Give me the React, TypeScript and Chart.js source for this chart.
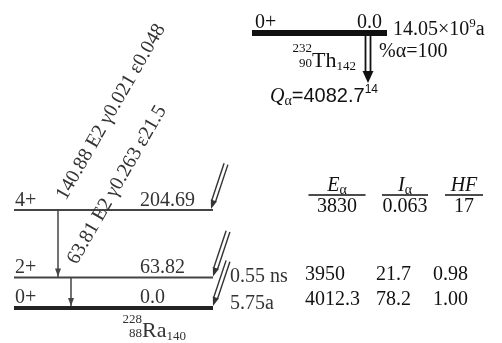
import React, { useEffect, useRef } from 'react';
import { Chart, registerables } from 'chart.js';

Chart.register(...registerables);

// ---- data ----
const levelSpins = ['0+', '2+', '4+'];
const levelEnergies = [0.0, 63.82, 204.69];
const levelEnergyLabels = ['0.0', '63.82', '204.69'];
const levelHalfLives = ['5.75a', '0.55 ns', ''];
const alphaEnergies = ['4012.3', '3950', '3830'];
const alphaIntensities = ['78.2', '21.7', '0.063'];
const hindranceFactors = ['1.00', '0.98', '17'];
const gammaFrom = [63.82, 204.69];
const gammaTo = [0.0, 63.82];
const gammaLabels = ['63.81 E2 γ0.263 ε21.5', '140.88 E2 γ0.021 ε0.048'];
const parentSpin = '0+';
const parentEnergyLabel = '0.0';
const parentHalfLifeMantissa = '14.05×10';
const parentHalfLifeExp = '9';
const parentHalfLifeUnit = 'a';
const parentBranching = '%α=100';
const qAlphaValue = '4082.7';
const qAlphaUnc = '14';

// ---- layout ----
const W = 502;
const H = 343;
const Y_MIN = -73;
const Y_MAX = 643;
const PARENT_Y = 574; // broken-axis display position of the parent level
const LEVEL_X0 = 14;
const LEVEL_X1 = 213;
const PARENT_X0 = 252;
const PARENT_X1 = 387;
const PARENT_ARROW_X = 368;
const GAMMA_X = [71, 58];
const GAMMA_LABEL_POS = [
  [117, 185],
  [111, 112],
];
const HALF_LIFE_DY = [1, 5, 0];
const TABLE_ROW_Y = [305, 280, 212];
const TABLE_COL_X = [305, 376, 433];
const TABLE_HEAD_X = [337, 405, 464];
const TABLE_HEAD_W = [57, 46, 38];
const TABLE_LINE_Y = 195;

const SERIF = '"Liberation Serif", "Times New Roman", serif';
const SANS = '"Liberation Sans", Arial, sans-serif';

type Run = { t: string; font: string; dy?: number };

function drawRuns(ctx: CanvasRenderingContext2D, x: number, y: number, runs: Run[], align: 'left' | 'center' | 'right' = 'left') {
  let total = 0;
  for (const r of runs) {
    ctx.font = r.font;
    total += ctx.measureText(r.t).width;
  }
  let cx = align === 'left' ? x : align === 'center' ? x - total / 2 : x - total;
  ctx.textAlign = 'left';
  ctx.textBaseline = 'alphabetic';
  for (const r of runs) {
    ctx.font = r.font;
    ctx.fillText(r.t, cx, y + (r.dy || 0));
    cx += ctx.measureText(r.t).width;
  }
  return cx;
}

function drawDoubleArrow(
  ctx: CanvasRenderingContext2D,
  tx: number,
  ty: number,
  hx: number,
  hy: number,
  gap: number,
  headLen: number,
  headW: number,
  color: string,
  lw: number
) {
  const dx = hx - tx;
  const dy = hy - ty;
  const L = Math.hypot(dx, dy);
  const ux = dx / L;
  const uy = dy / L;
  const nx = -uy;
  const ny = ux;
  const bx = hx - ux * headLen;
  const by = hy - uy * headLen;
  ctx.strokeStyle = color;
  ctx.lineWidth = lw;
  for (const s of [-1, 1]) {
    ctx.beginPath();
    ctx.moveTo(tx + (nx * gap * s) / 2, ty + (ny * gap * s) / 2);
    ctx.lineTo(bx + (nx * gap * s) / 2 + ux, by + (ny * gap * s) / 2 + uy);
    ctx.stroke();
  }
  ctx.fillStyle = color;
  ctx.beginPath();
  ctx.moveTo(hx, hy);
  ctx.lineTo(bx + nx * headW, by + ny * headW);
  ctx.lineTo(bx - nx * headW, by - ny * headW);
  ctx.closePath();
  ctx.fill();
}

function drawHead(ctx: CanvasRenderingContext2D, x: number, y: number, len: number, hw: number, color: string) {
  ctx.fillStyle = color;
  ctx.beginPath();
  ctx.moveTo(x, y);
  ctx.lineTo(x - hw, y - len);
  ctx.lineTo(x + hw, y - len);
  ctx.closePath();
  ctx.fill();
}

const schemePlugin = {
  id: 'decayScheme',
  afterDatasetsDraw(chart: any) {
    const ctx: CanvasRenderingContext2D = chart.ctx;
    const xs = chart.scales.x;
    const ys = chart.scales.y;
    const px = (v: number) => xs.getPixelForValue(v);
    const py = (v: number) => ys.getPixelForValue(v);
    ctx.save();

    const raCol = '#333';
    const blk = '#111';

    // gamma arrow heads
    gammaTo.forEach((e, i) => {
      const yTip = py(e) - (e === 0 ? 2 : 1);
      drawHead(ctx, px(GAMMA_X[i]), yTip, 8, 3, '#444');
    });

    // incoming alpha arrows
    levelEnergies.forEach((e, i) => {
      const hx = px(LEVEL_X1) - (i === 2 ? 2 : 0);
      const hy = py(e) - (i === 0 ? 2 : 1);
      drawDoubleArrow(ctx, hx + 15, hy - 45, hx, hy, 4, 9, 3.2, '#333', 1.4);
    });

    // parent alpha arrow
    const pTop = py(PARENT_Y) + 3;
    drawDoubleArrow(ctx, px(PARENT_ARROW_X), pTop, px(PARENT_ARROW_X), pTop + 47, 5, 12, 5.5, '#111', 1.8);

    // level labels
    ctx.fillStyle = raCol;
    levelEnergies.forEach((e, i) => {
      const ly = py(e) - (i === 0 ? 5 : 4);
      drawRuns(ctx, px(LEVEL_X0) + 1, ly, [{ t: levelSpins[i], font: `20px ${SERIF}` }]);
      drawRuns(ctx, 140, ly, [{ t: levelEnergyLabels[i], font: `20px ${SERIF}` }]);
      if (levelHalfLives[i]) {
        drawRuns(ctx, 230, py(e) + HALF_LIFE_DY[i], [{ t: levelHalfLives[i], font: `20px ${SERIF}` }]);
      }
    });

    // gamma labels (rotated)
    gammaLabels.forEach((lab, i) => {
      ctx.save();
      ctx.translate(GAMMA_LABEL_POS[i][0], GAMMA_LABEL_POS[i][1]);
      ctx.rotate((-60 * Math.PI) / 180);
      ctx.font = `20px ${SERIF}`;
      ctx.textAlign = 'center';
      ctx.textBaseline = 'middle';
      ctx.fillStyle = raCol;
      ctx.fillText(lab, 0, 0);
      ctx.restore();
    });

    // daughter nuclide
    ctx.fillStyle = raCol;
    drawRuns(ctx, 142, 323, [{ t: '228', font: `13px ${SERIF}` }], 'right');
    drawRuns(ctx, 142, 337, [{ t: '88', font: `13px ${SERIF}` }], 'right');
    const raEnd = drawRuns(ctx, 142, 337, [{ t: 'Ra', font: `22px ${SERIF}` }]);
    drawRuns(ctx, raEnd, 340, [{ t: '140', font: `13px ${SERIF}` }]);

    // parent
    ctx.fillStyle = blk;
    drawRuns(ctx, px(PARENT_X0) + 3, 28, [{ t: parentSpin, font: `20px ${SERIF}` }]);
    drawRuns(ctx, 357, 28, [{ t: parentEnergyLabel, font: `20px ${SERIF}` }]);
    drawRuns(ctx, 393, 35, [
      { t: parentHalfLifeMantissa, font: `20px ${SERIF}` },
      { t: parentHalfLifeExp, font: `13px ${SERIF}`, dy: -8 },
      { t: parentHalfLifeUnit, font: `20px ${SERIF}` },
    ]);
    drawRuns(ctx, 379, 57, [{ t: parentBranching, font: `20px ${SERIF}` }]);
    drawRuns(ctx, 312, 52, [{ t: '232', font: `13px ${SERIF}` }], 'right');
    drawRuns(ctx, 312, 67, [{ t: '90', font: `13px ${SERIF}` }], 'right');
    const thEnd = drawRuns(ctx, 312, 67, [{ t: 'Th', font: `22px ${SERIF}` }]);
    drawRuns(ctx, thEnd, 70, [{ t: '142', font: `13px ${SERIF}` }]);
    drawRuns(ctx, 270, 102, [
      { t: 'Q', font: `italic 20px ${SERIF}` },
      { t: 'α', font: `14px ${SERIF}`, dy: 3 },
      { t: '=' + qAlphaValue, font: `20px ${SANS}` },
      { t: qAlphaUnc, font: `12px ${SANS}`, dy: -9 },
    ]);

    // table header
    ctx.fillStyle = blk;
    ctx.strokeStyle = blk;
    ctx.lineWidth = 1.5;
    const heads: Run[][] = [
      [
        { t: 'E', font: `italic 20px ${SERIF}` },
        { t: 'α', font: `14px ${SERIF}`, dy: 3 },
      ],
      [
        { t: 'I', font: `italic 20px ${SERIF}` },
        { t: 'α', font: `14px ${SERIF}`, dy: 3 },
      ],
      [{ t: 'HF', font: `italic 20px ${SERIF}` }],
    ];
    heads.forEach((runs, c) => {
      drawRuns(ctx, TABLE_HEAD_X[c], TABLE_LINE_Y - 4, runs, 'center');
      ctx.beginPath();
      ctx.moveTo(TABLE_HEAD_X[c] - TABLE_HEAD_W[c] / 2, TABLE_LINE_Y);
      ctx.lineTo(TABLE_HEAD_X[c] + TABLE_HEAD_W[c] / 2, TABLE_LINE_Y);
      ctx.stroke();
    });

    // table rows
    levelEnergies.forEach((_, i) => {
      const cols = [alphaEnergies[i], alphaIntensities[i], hindranceFactors[i]];
      cols.forEach((txt, c) => {
        if (i === 2) {
          drawRuns(ctx, TABLE_HEAD_X[c], TABLE_ROW_Y[i], [{ t: txt, font: `20px ${SERIF}` }], 'center');
        } else {
          drawRuns(ctx, TABLE_COL_X[c], TABLE_ROW_Y[i], [{ t: txt, font: `20px ${SERIF}` }]);
        }
      });
    });

    ctx.restore();
  },
};

export default function App() {
  const ref = useRef<HTMLCanvasElement | null>(null);
  useEffect(() => {
    if (!ref.current) return;
    const datasets: any[] = [];
    levelEnergies.forEach((e, i) => {
      datasets.push({
        data: [
          { x: LEVEL_X0, y: e },
          { x: LEVEL_X1, y: e },
        ],
        showLine: true,
        borderColor: i === 0 ? '#222' : '#444',
        borderWidth: i === 0 ? 4 : 2,
        pointRadius: 0,
        borderCapStyle: 'butt',
      });
    });
    datasets.push({
      data: [
        { x: PARENT_X0, y: PARENT_Y },
        { x: PARENT_X1, y: PARENT_Y },
      ],
      showLine: true,
      borderColor: '#111',
      borderWidth: 6,
      pointRadius: 0,
      borderCapStyle: 'butt',
    });
    gammaFrom.forEach((f, i) => {
      datasets.push({
        data: [
          { x: GAMMA_X[i], y: f },
          { x: GAMMA_X[i], y: gammaTo[i] },
        ],
        showLine: true,
        borderColor: '#444',
        borderWidth: 1.5,
        pointRadius: 0,
      });
    });
    const chart = new Chart(ref.current, {
      type: 'scatter',
      data: { datasets },
      options: {
        responsive: false,
        animation: false,
        layout: { padding: 0 },
        scales: {
          x: { type: 'linear', min: 0, max: W, display: false },
          y: { type: 'linear', min: Y_MIN, max: Y_MAX, display: false },
        },
        plugins: { legend: { display: false }, tooltip: { enabled: false } },
        events: [],
      },
      plugins: [schemePlugin],
    } as any);
    return () => chart.destroy();
  }, []);
  return (
    <div style={{ position: 'fixed', left: 0, top: 0, width: W, height: H, background: '#fff' }}>
      <canvas ref={ref} width={W} height={H} style={{ display: 'block' }} />
    </div>
  );
}
